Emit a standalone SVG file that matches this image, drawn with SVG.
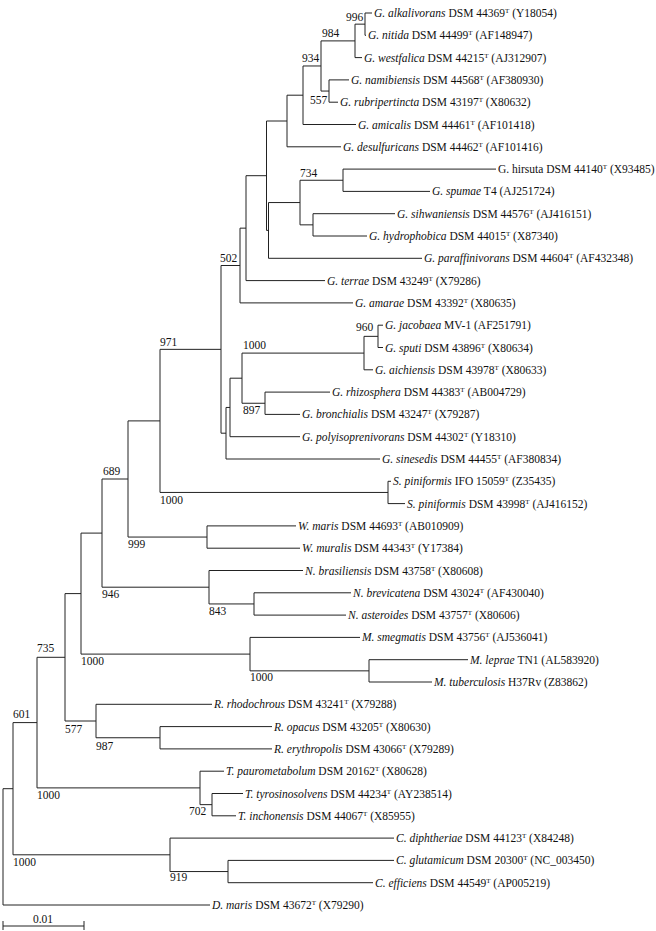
<svg xmlns="http://www.w3.org/2000/svg" width="656" height="931" viewBox="0 0 656 931">
<style>
text{font-family:"Liberation Serif","Times New Roman",serif;font-size:11.5px;fill:#111}
.i{font-style:italic}
.s{font-size:7px}
.b{font-size:11.5px}
#connectors path{fill:none;stroke:#222;stroke-width:1}
</style>
<rect width="656" height="931" fill="#fff"/>
<g id="connectors">
<path d="M365 13V35.3M365 13H372M365 35.3H366
M355 24.15V57.6M355 24.15H365M355 57.6H362
M329 79.9V102.2M329 79.9H349M329 102.2H338
M321 40.9V91.05H329M321 40.9H355
M303 65.97V124.5H356M303 65.97H321
M287 95.2V146.8H341M287 95.2H303
M343 169.1V191.4H430M343 169.1H496
M313 213.7V236H367M313 213.7H395
M300 180.25V224.85H313M300 180.25H343
M268.5 202.55V258.3H422M268.5 202.55H300
M266.5 121V230.4H268.5M266.5 121H287
M246 175.7V280.6H325M246 175.7H266.5
M240 228.15V302.9H353M240 228.15H246
M378 325.2V347.5H383M378 325.2H383
M364 336.35V369.8H373M364 336.35H378
M265 392.1V414.4H300M265 392.1H330
M242 353.1V403.25H265M242 353.1H364
M230 378.2V436.7H300M230 378.2H242
M226 407.45V459H380M226 407.45H230
M221 265.5V433.2H226M221 265.5H240
M388 481.3V503.6H405M388 481.3H391
M160 349.35V492.45H388M160 349.35H221
M207 525.9V548.2H300M207 525.9H296
M128 420.9V537.05H207M128 420.9H160
M254 592.8V615.1H346M254 592.8H351
M209 570.5V603.95H254M209 570.5H303
M102 479V587.2H209M102 479H128
M369 659.7V682H432M369 659.7H468
M250 637.4V670.85H369M250 637.4H360
M81 533.1V654.1H250M81 533.1H102
M160 726.6V748.9H272M160 726.6H272
M96 704.3V737.75H160M96 704.3H212
M65 593.6V721H96M65 593.6H81
M212 793.5V815.8H236M212 793.5H243
M200 771.2V804.65H212M200 771.2H224
M37 657.3V787.9H200M37 657.3H65
M228 860.4V882.7H373M228 860.4H394
M170 838.1V871.55H228M170 838.1H394
M13 722.6V854.8H170M13 722.6H37
M3 788.7V905H210M3 788.7H13"/>
<path d="M3 926H84M3 921V930M84 921V930"/>
</g>
<g id="support">
<text x="346" y="21">996</text>
<text x="322" y="37">984</text>
<text x="302" y="62">934</text>
<text x="310" y="104">557</text>
<text x="300" y="177">734</text>
<text x="220" y="262">502</text>
<text x="160" y="346">971</text>
<text x="243" y="349">1000</text>
<text x="356" y="331">960</text>
<text x="243" y="414">897</text>
<text x="160" y="504">1000</text>
<text x="103" y="475">689</text>
<text x="128" y="548">999</text>
<text x="102" y="598">946</text>
<text x="209" y="615">843</text>
<text x="81" y="665">1000</text>
<text x="250" y="681">1000</text>
<text x="37" y="652">735</text>
<text x="65" y="733">577</text>
<text x="96" y="750">987</text>
<text x="13" y="718">601</text>
<text x="37" y="799">1000</text>
<text x="189" y="815">702</text>
<text x="13" y="866">1000</text>
<text x="170" y="881">919</text>
</g>
<g id="scale"><text x="43" y="923" text-anchor="middle">0.01</text></g>
<g id="leaves">
<g id="L0"><text x="374" y="17"><tspan class="i">G. alkalivorans</tspan> DSM 44369<tspan class="s" dy="-4">T</tspan><tspan dy="4"> (Y18054)</tspan></text></g>
<g id="L1"><text x="368" y="39.3"><tspan class="i">G. nitida</tspan> DSM 44499<tspan class="s" dy="-4">T</tspan><tspan dy="4"> (AF148947)</tspan></text></g>
<g id="L2"><text x="364" y="61.6"><tspan class="i">G. westfalica</tspan> DSM 44215<tspan class="s" dy="-4">T</tspan><tspan dy="4"> (AJ312907)</tspan></text></g>
<g id="L3"><text x="351" y="83.9"><tspan class="i">G. namibiensis</tspan> DSM 44568<tspan class="s" dy="-4">T</tspan><tspan dy="4"> (AF380930)</tspan></text></g>
<g id="L4"><text x="340" y="106.2"><tspan class="i">G. rubripertincta</tspan> DSM 43197<tspan class="s" dy="-4">T</tspan><tspan dy="4"> (X80632)</tspan></text></g>
<g id="L5"><text x="358" y="128.5"><tspan class="i">G. amicalis</tspan> DSM 44461<tspan class="s" dy="-4">T</tspan><tspan dy="4"> (AF101418)</tspan></text></g>
<g id="L6"><text x="343" y="150.8"><tspan class="i">G. desulfuricans</tspan> DSM 44462<tspan class="s" dy="-4">T</tspan><tspan dy="4"> (AF101416)</tspan></text></g>
<g id="L7"><text x="498" y="173.1">G. hirsuta DSM 44140<tspan class="s" dy="-4">T</tspan><tspan dy="4"> (X93485)</tspan></text></g>
<g id="L8"><text x="432" y="195.4"><tspan class="i">G. spumae</tspan> T4 (AJ251724)</text></g>
<g id="L9"><text x="397" y="217.7"><tspan class="i">G. sihwaniensis</tspan> DSM 44576<tspan class="s" dy="-4">T</tspan><tspan dy="4"> (AJ416151)</tspan></text></g>
<g id="L10"><text x="369" y="240"><tspan class="i">G. hydrophobica</tspan> DSM 44015<tspan class="s" dy="-4">T</tspan><tspan dy="4"> (X87340)</tspan></text></g>
<g id="L11"><text x="424" y="262.3"><tspan class="i">G. paraffinivorans</tspan> DSM 44604<tspan class="s" dy="-4">T</tspan><tspan dy="4"> (AF432348)</tspan></text></g>
<g id="L12"><text x="327" y="284.6"><tspan class="i">G. terrae</tspan> DSM 43249<tspan class="s" dy="-4">T</tspan><tspan dy="4"> (X79286)</tspan></text></g>
<g id="L13"><text x="355" y="306.9"><tspan class="i">G. amarae</tspan> DSM 43392<tspan class="s" dy="-4">T</tspan><tspan dy="4"> (X80635)</tspan></text></g>
<g id="L14"><text x="385" y="329.2"><tspan class="i">G. jacobaea</tspan> MV-1 (AF251791)</text></g>
<g id="L15"><text x="385" y="351.5"><tspan class="i">G. sputi</tspan> DSM 43896<tspan class="s" dy="-4">T</tspan><tspan dy="4"> (X80634)</tspan></text></g>
<g id="L16"><text x="375" y="373.8"><tspan class="i">G. aichiensis</tspan> DSM 43978<tspan class="s" dy="-4">T</tspan><tspan dy="4"> (X80633)</tspan></text></g>
<g id="L17"><text x="332" y="396.1"><tspan class="i">G. rhizosphera</tspan> DSM 44383<tspan class="s" dy="-4">T</tspan><tspan dy="4"> (AB004729)</tspan></text></g>
<g id="L18"><text x="302" y="418.4"><tspan class="i">G. bronchialis</tspan> DSM 43247<tspan class="s" dy="-4">T</tspan><tspan dy="4"> (X79287)</tspan></text></g>
<g id="L19"><text x="302" y="440.7"><tspan class="i">G. polyisoprenivorans</tspan> DSM 44302<tspan class="s" dy="-4">T</tspan><tspan dy="4"> (Y18310)</tspan></text></g>
<g id="L20"><text x="382" y="463"><tspan class="i">G. sinesedis</tspan> DSM 44455<tspan class="s" dy="-4">T</tspan><tspan dy="4"> (AF380834)</tspan></text></g>
<g id="L21"><text x="393" y="485.3"><tspan class="i">S. piniformis</tspan> IFO 15059<tspan class="s" dy="-4">T</tspan><tspan dy="4"> (Z35435)</tspan></text></g>
<g id="L22"><text x="407" y="507.6"><tspan class="i">S. piniformis</tspan> DSM 43998<tspan class="s" dy="-4">T</tspan><tspan dy="4"> (AJ416152)</tspan></text></g>
<g id="L23"><text x="298" y="529.9"><tspan class="i">W. maris</tspan> DSM 44693<tspan class="s" dy="-4">T</tspan><tspan dy="4"> (AB010909)</tspan></text></g>
<g id="L24"><text x="302" y="552.2"><tspan class="i">W. muralis</tspan> DSM 44343<tspan class="s" dy="-4">T</tspan><tspan dy="4"> (Y17384)</tspan></text></g>
<g id="L25"><text x="305" y="574.5"><tspan class="i">N. brasiliensis</tspan> DSM 43758<tspan class="s" dy="-4">T</tspan><tspan dy="4"> (X80608)</tspan></text></g>
<g id="L26"><text x="353" y="596.8"><tspan class="i">N. brevicatena</tspan> DSM 43024<tspan class="s" dy="-4">T</tspan><tspan dy="4"> (AF430040)</tspan></text></g>
<g id="L27"><text x="348" y="619.1"><tspan class="i">N. asteroides</tspan> DSM 43757<tspan class="s" dy="-4">T</tspan><tspan dy="4"> (X80606)</tspan></text></g>
<g id="L28"><text x="362" y="641.4"><tspan class="i">M. smegmatis</tspan> DSM 43756<tspan class="s" dy="-4">T</tspan><tspan dy="4"> (AJ536041)</tspan></text></g>
<g id="L29"><text x="470" y="663.7"><tspan class="i">M. leprae</tspan> TN1 (AL583920)</text></g>
<g id="L30"><text x="434" y="686"><tspan class="i">M. tuberculosis</tspan> H37Rv (Z83862)</text></g>
<g id="L31"><text x="214" y="708.3"><tspan class="i">R. rhodochrous</tspan> DSM 43241<tspan class="s" dy="-4">T</tspan><tspan dy="4"> (X79288)</tspan></text></g>
<g id="L32"><text x="274" y="730.6"><tspan class="i">R. opacus</tspan> DSM 43205<tspan class="s" dy="-4">T</tspan><tspan dy="4"> (X80630)</tspan></text></g>
<g id="L33"><text x="274" y="752.9"><tspan class="i">R. erythropolis</tspan> DSM 43066<tspan class="s" dy="-4">T</tspan><tspan dy="4"> (X79289)</tspan></text></g>
<g id="L34"><text x="226" y="775.2"><tspan class="i">T. paurometabolum</tspan> DSM 20162<tspan class="s" dy="-4">T</tspan><tspan dy="4"> (X80628)</tspan></text></g>
<g id="L35"><text x="245" y="797.5"><tspan class="i">T. tyrosinosolvens</tspan> DSM 44234<tspan class="s" dy="-4">T</tspan><tspan dy="4"> (AY238514)</tspan></text></g>
<g id="L36"><text x="238" y="819.8"><tspan class="i">T. inchonensis</tspan> DSM 44067<tspan class="s" dy="-4">T</tspan><tspan dy="4"> (X85955)</tspan></text></g>
<g id="L37"><text x="396" y="842.1"><tspan class="i">C. diphtheriae</tspan> DSM 44123<tspan class="s" dy="-4">T</tspan><tspan dy="4"> (X84248)</tspan></text></g>
<g id="L38"><text x="396" y="864.4"><tspan class="i">C. glutamicum</tspan> DSM 20300<tspan class="s" dy="-4">T</tspan><tspan dy="4"> (NC_003450)</tspan></text></g>
<g id="L39"><text x="375" y="886.7"><tspan class="i">C. efficiens</tspan> DSM 44549<tspan class="s" dy="-4">T</tspan><tspan dy="4"> (AP005219)</tspan></text></g>
<g id="L40"><text x="212" y="909"><tspan class="i">D. maris</tspan> DSM 43672<tspan class="s" dy="-4">T</tspan><tspan dy="4"> (X79290)</tspan></text></g>
</g>
</svg>
